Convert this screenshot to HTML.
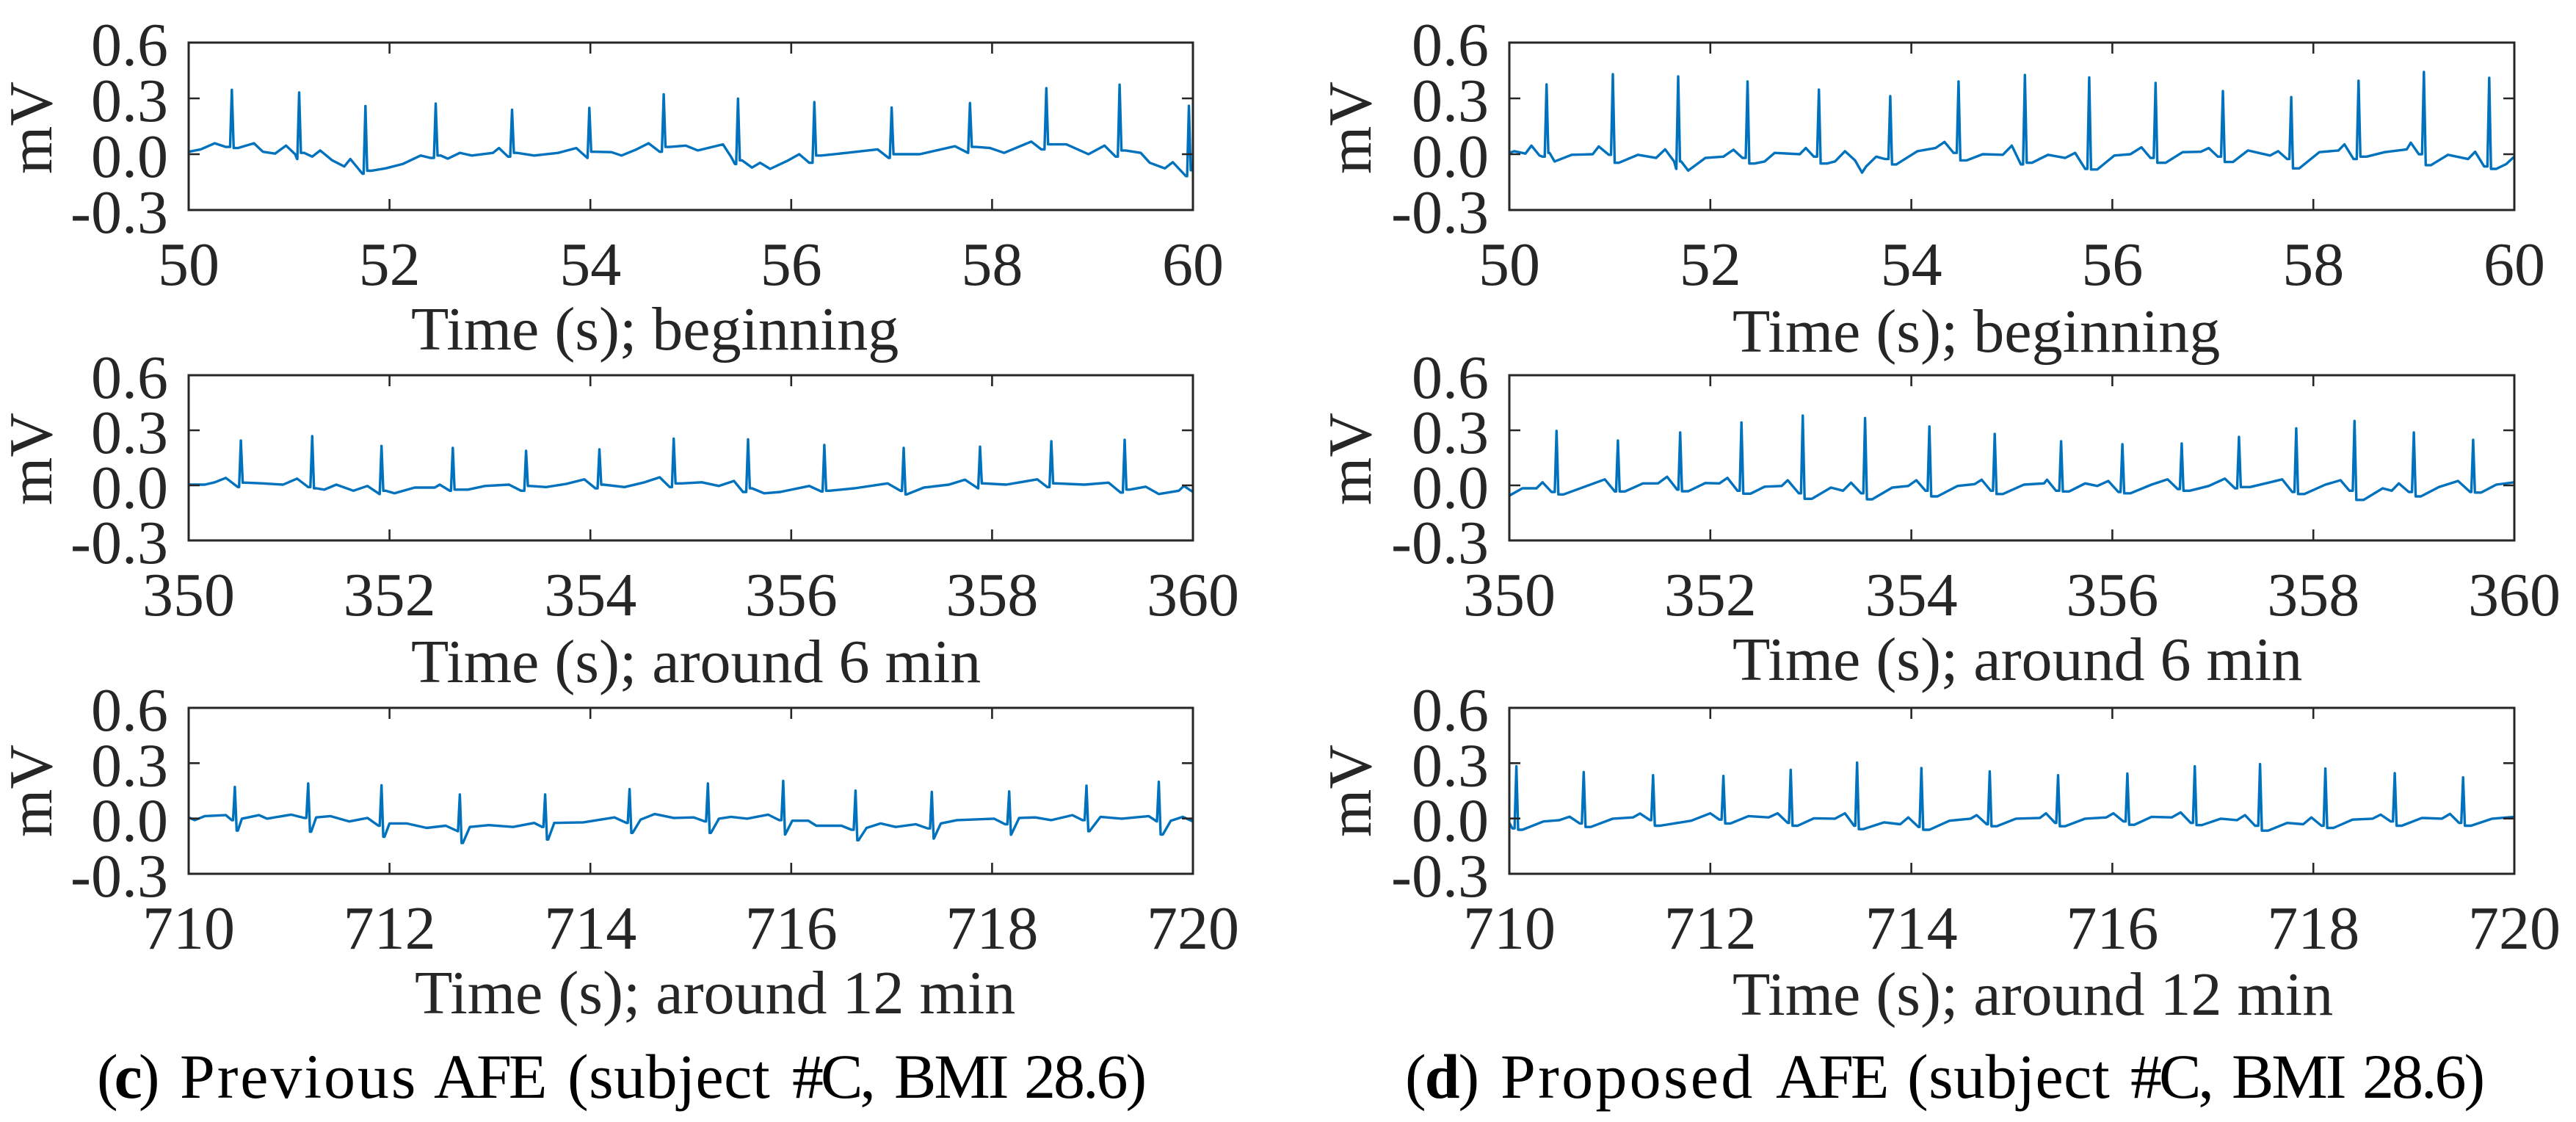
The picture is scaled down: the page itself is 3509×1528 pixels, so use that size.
<!DOCTYPE html>
<html lang="en">
<head>
<meta charset="utf-8">
<title>ECG recordings: previous and proposed AFE</title>
<style>
html,body{margin:0;padding:0;background:#fff;}
svg{display:block;}
text{font-family:"Liberation Serif","Times New Roman",serif;font-size:84px;fill:#262626;}
text.caption{fill:#000;font-size:86px;}
</style>
</head>
<body>
<svg id="chart" xmlns="http://www.w3.org/2000/svg" width="3509" height="1528" viewBox="0 0 3509 1528">
  <rect x="0" y="0" width="3509" height="1528" fill="#fff"/>
  <text x="560" y="476">Time (s); beginning</text>
  <text x="2360" y="479">Time (s); beginning</text>
  <text x="560" y="929">Time (s); around 6 min</text>
  <text x="2360" y="926">Time (s); around 6 min</text>
  <text x="565" y="1380">Time (s); around 12 min</text>
  <text x="2360" y="1382">Time (s); around 12 min</text>
  <text transform="translate(70,174) rotate(-90)" text-anchor="middle">mV</text>
  <text transform="translate(1867,174) rotate(-90)" text-anchor="middle">mV</text>
  <text transform="translate(70,625) rotate(-90)" text-anchor="middle">mV</text>
  <text transform="translate(1867,625) rotate(-90)" text-anchor="middle">mV</text>
  <text transform="translate(70,1077) rotate(-90)" text-anchor="middle">mV</text>
  <text transform="translate(1867,1077) rotate(-90)" text-anchor="middle">mV</text>
  <text class="caption" y="1495"><tspan x="132" letter-spacing="-5">(<tspan font-weight="bold">c</tspan>) </tspan><tspan x="245" letter-spacing="2.9">Previous </tspan><tspan x="591" letter-spacing="-4">AFE </tspan><tspan x="773" letter-spacing="0.5">(subject </tspan><tspan x="1079" letter-spacing="-4">#C, </tspan><tspan x="1218" letter-spacing="-3">BMI </tspan><tspan x="1395" letter-spacing="-3">28.6)</tspan></text>
  <text class="caption" y="1495"><tspan x="1914" letter-spacing="-2">(<tspan font-weight="bold">d</tspan>) </tspan><tspan x="2044" letter-spacing="3.3">Proposed </tspan><tspan x="2419" letter-spacing="-4">AFE </tspan><tspan x="2598" letter-spacing="0.5">(subject </tspan><tspan x="2902" letter-spacing="-4">#C, </tspan><tspan x="3040" letter-spacing="-3">BMI </tspan><tspan x="3218" letter-spacing="-3">28.6)</tspan></text>
</svg>
<script>
const yTickValues = [-0.3, 0, 0.3, 0.6];
const yTickLabels = ['-0.3', '0.0', '0.3', '0.6'];

const xTicksBeginning = [50, 52, 54, 56, 58, 60];
const xTicks6Min = [350, 352, 354, 356, 358, 360];
const xTicks12Min = [710, 712, 714, 716, 718, 720];

const beatsPrevBeginning = [[50.43,.346],[51.10,.332],[51.76,.259],[52.46,.272],[53.22,.239],[53.99,.249],[54.73,.322],[55.47,.299],[56.23,.280],[57.00,.251],[57.78,.275],[58.54,.355],[59.27,.374],[59.96,.260]];
const wavePrevBeginning = [[50.00,.013],[50.12,.026],[50.26,.059],[50.37,.039],[50.49,.033],[50.65,.059],[50.74,.013],[50.86,.003],[50.97,.046],[51.06,0],[51.08,-.026],[51.15,.007],[51.23,-.013],[51.31,.020],[51.43,-.033],[51.55,-.066],[51.61,-.026],[51.68,-.072],[51.73,-.105],[51.82,-.089],[51.96,-.076],[52.13,-.053],[52.31,-.007],[52.41,-.020],[52.51,-.007],[52.58,-.024],[52.70,.007],[52.82,-.007],[53.03,.007],[53.09,.033],[53.18,-.013],[53.27,.007],[53.44,-.007],[53.68,.007],[53.86,.033],[53.97,-.020],[54.05,.013],[54.21,.011],[54.31,-.007],[54.46,.026],[54.58,.059],[54.69,.013],[54.79,.039],[54.95,.046],[55.07,.020],[55.32,.053],[55.40,-.013],[55.44,-.053],[55.51,-.033],[55.61,-.072],[55.69,-.046],[55.79,-.079],[55.97,-.033],[56.08,0],[56.18,-.046],[56.30,-.007],[56.55,.007],[56.86,.026],[56.97,-.020],[57.08,0],[57.28,0],[57.63,.043],[57.76,.007],[57.84,.039],[57.98,.033],[58.12,.007],[58.39,.068],[58.49,.026],[58.59,.053],[58.74,.053],[58.96,0],[59.12,.046],[59.23,-.013],[59.33,.020],[59.48,.007],[59.57,-.046],[59.72,-.076],[59.80,-.043],[59.93,-.118],[60.00,-.086]];

const beatsPropBeginning = [[50.37,.375],[51.03,.430],[51.68,.418],[52.37,.391],[53.08,.347],[53.79,.312],[54.47,.391],[55.13,.426],[55.77,.413],[56.43,.383],[57.10,.339],[57.78,.307],[58.45,.395],[59.10,.442],[59.75,.411]];
const wavePropBeginning = [[50.00,.007],[50.05,.016],[50.16,.003],[50.22,.046],[50.30,-.007],[50.33,-.013],[50.40,.007],[50.45,-.039],[50.62,-.003],[50.83,0],[50.89,.042],[50.99,-.003],[51.09,-.046],[51.28,-.003],[51.46,-.020],[51.55,.026],[51.64,-.039],[51.66,-.079],[51.71,-.039],[51.78,-.088],[51.95,-.020],[52.13,-.013],[52.23,.024],[52.32,-.020],[52.44,-.050],[52.54,-.039],[52.64,.007],[52.89,0],[52.95,.033],[53.03,-.013],[53.16,-.050],[53.24,-.039],[53.34,.016],[53.44,-.033],[53.51,-.099],[53.55,-.066],[53.65,-.013],[53.74,-.026],[53.85,-.055],[54.06,.016],[54.24,.033],[54.33,.066],[54.42,.007],[54.55,-.033],[54.71,0],[54.91,-.003],[55.00,.046],[55.09,-.055],[55.20,-.046],[55.36,-.003],[55.53,-.020],[55.63,.007],[55.73,-.079],[55.85,-.082],[56.02,-.007],[56.18,0],[56.29,.037],[56.38,-.020],[56.53,-.046],[56.70,.011],[56.88,.013],[56.96,.033],[57.05,-.013],[57.20,-.042],[57.35,.020],[57.57,-.007],[57.65,.016],[57.74,-.026],[57.86,-.076],[58.06,.011],[58.25,.020],[58.31,.053],[58.40,-.026],[58.53,-.013],[58.71,.011],[58.93,.026],[58.97,.062],[59.05,0],[59.17,-.059],[59.34,-.003],[59.54,-.026],[59.61,.013],[59.70,-.066],[59.82,-.079],[59.92,-.053],[60.00,-.013]];

const beatsPrev6Min = [[350.52,.244],[351.23,.268],[351.92,.215],[352.63,.204],[353.36,.188],[354.09,.196],[354.83,.255],[355.57,.251],[356.33,.220],[357.12,.204],[357.88,.211],[358.59,.240],[359.32,.248]];
const wavePrev6Min = [[350.00,.004],[350.16,.004],[350.26,.017],[350.37,.041],[350.49,-.009],[350.57,.015],[350.74,.011],[350.94,.004],[351.08,.037],[351.19,-.009],[351.27,-.016],[351.35,-.023],[351.47,.004],[351.64,-.029],[351.78,-.003],[351.90,-.047],[351.96,-.029],[352.05,-.043],[352.25,-.012],[352.45,-.012],[352.50,.004],[352.60,-.029],[352.66,-.023],[352.78,-.023],[352.95,-.003],[353.19,.004],[353.31,-.029],[353.40,-.003],[353.56,-.009],[353.76,.008],[353.94,.033],[354.05,-.016],[354.13,.004],[354.34,-.009],[354.54,.017],[354.69,.044],[354.79,-.009],[354.91,.011],[355.11,.017],[355.28,-.003],[355.43,.024],[355.52,-.036],[355.61,-.016],[355.73,-.043],[355.89,-.036],[356.18,-.003],[356.30,-.033],[356.38,-.029],[356.63,-.016],[356.96,.011],[357.09,-.030],[357.15,-.049],[357.32,-.012],[357.57,.004],[357.73,.031],[357.86,-.016],[357.92,.011],[358.14,.004],[358.45,.033],[358.55,-.009],[358.64,.011],[358.92,.004],[359.16,.015],[359.28,-.039],[359.37,-.023],[359.53,-.007],[359.66,-.047],[359.86,-.029],[359.91,-.003],[360.00,-.036]];

const beatsProp6Min = [[350.47,.297],[351.08,.244],[351.70,.288],[352.31,.343],[352.92,.380],[353.54,.367],[354.18,.321],[354.83,.280],[355.49,.240],[356.10,.224],[356.69,.228],[357.26,.264],[357.83,.311],[358.41,.351],[359.00,.288],[359.59,.248]];
const waveProp6Min = [[350.00,-.056],[350.13,-.016],[350.27,-.016],[350.33,.017],[350.42,-.036],[350.54,-.049],[350.74,-.009],[350.95,.033],[351.05,-.033],[351.15,-.033],[351.33,.011],[351.48,.011],[351.57,.047],[351.67,-.023],[351.78,-.032],[351.95,.013],[352.09,.011],[352.17,.041],[352.27,-.029],[352.40,-.045],[352.54,-.007],[352.71,-.003],[352.77,.028],[352.88,-.043],[353.01,-.073],[353.20,-.012],[353.32,-.029],[353.40,.015],[353.50,-.043],[353.61,-.076],[353.81,-.012],[353.97,-.003],[354.05,.028],[354.14,-.029],[354.26,-.060],[354.46,-.003],[354.63,.007],[354.70,.031],[354.79,-.029],[354.91,-.047],[355.12,.004],[355.32,.011],[355.35,.031],[355.44,-.029],[355.57,-.033],[355.73,.011],[355.85,-.003],[355.96,.024],[356.06,-.036],[356.18,-.043],[356.39,.004],[356.55,.033],[356.65,-.020],[356.77,-.029],[356.96,-.003],[357.12,.037],[357.22,-.016],[357.37,-.009],[357.57,.017],[357.69,.033],[357.79,-.036],[357.91,-.047],[358.12,.004],[358.27,.028],[358.36,-.029],[358.50,-.079],[358.69,-.016],[358.78,-.029],[358.85,.011],[358.95,-.036],[359.07,-.060],[359.25,-.009],[359.44,.024],[359.56,-.036],[359.67,-.039],[359.82,.004],[360.00,.017]];

const beatsPrev12Min = [[710.46,.171],[711.19,.190],[711.92,.180],[712.70,.130],[713.55,.130],[714.39,.159],[715.17,.190],[715.92,.204],[716.64,.151],[717.40,.144],[718.17,.147],[718.94,.178],[719.66,.199]];
const dipsPrev12Min = [[710.49,-.066],[711.22,-.072],[711.95,-.099],[712.73,-.133],[713.58,-.114],[714.42,-.078],[715.20,-.078],[715.94,-.087],[716.67,-.118],[717.42,-.109],[718.19,-.088],[718.97,-.069],[719.70,-.087]];
const wavePrev12Min = [[710.00,.006],[710.06,-.009],[710.16,.013],[710.37,.018],[710.43,-.009],[710.53,-.001],[710.70,.018],[710.78,-.001],[711.02,.021],[711.15,.003],[711.27,.006],[711.41,.013],[711.60,-.016],[711.78,.003],[711.89,-.039],[712.00,-.027],[712.17,-.027],[712.37,-.051],[712.56,-.039],[712.68,-.069],[712.80,-.046],[712.99,-.036],[713.23,-.046],[713.44,-.024],[713.52,-.046],[713.64,-.024],[713.93,-.021],[714.24,.006],[714.36,-.024],[714.50,-.006],[714.64,.024],[714.83,.003],[715.03,.006],[715.14,-.016],[715.28,-.001],[715.40,.009],[715.56,-.001],[715.77,.021],[715.88,-.009],[716.01,-.012],[716.17,-.012],[716.25,-.039],[716.50,-.039],[716.60,-.061],[716.75,-.051],[716.89,-.027],[717.04,-.046],[717.24,-.031],[717.36,-.054],[717.49,-.027],[717.65,-.009],[718.02,-.001],[718.13,-.031],[718.27,.003],[718.43,.006],[718.59,-.009],[718.80,.018],[718.90,-.009],[719.08,.009],[719.29,-.001],[719.56,.013],[719.64,-.016],[719.78,-.012],[719.90,.009],[720.00,-.016]];

const beatsProp12Min = [[710.07,.283],[710.74,.252],[711.43,.235],[712.13,.231],[712.80,.264],[713.46,.303],[714.10,.274],[714.78,.255],[715.46,.235],[716.15,.244],[716.82,.283],[717.47,.295],[718.12,.271],[718.81,.246],[719.49,.223]];
const waveProp12Min = [[710.00,-.024],[710.03,-.054],[710.13,-.061],[710.34,-.016],[710.50,-.009],[710.60,.010],[710.70,-.027],[710.81,-.046],[711.03,-.001],[711.23,.006],[711.30,.027],[711.40,-.009],[711.50,-.039],[711.81,-.012],[712.00,.028],[712.09,-.006],[712.20,-.027],[712.38,.013],[712.58,.006],[712.67,.028],[712.77,-.024],[712.87,-.039],[713.03,.001],[713.24,-.001],[713.34,.028],[713.43,-.039],[713.52,-.058],[713.73,-.021],[713.89,-.031],[713.97,.006],[714.07,-.046],[714.18,-.061],[714.38,-.012],[714.59,-.001],[714.65,.018],[714.75,-.031],[714.85,-.042],[715.04,-.001],[715.28,.003],[715.34,.028],[715.43,-.024],[715.53,-.042],[715.73,-.001],[715.94,.006],[716.01,.028],[716.11,-.016],[716.22,-.034],[716.39,.009],[716.59,.006],[716.68,.033],[716.78,-.024],[716.89,-.036],[717.08,-.001],[717.24,-.009],[717.32,.018],[717.42,-.039],[717.55,-.066],[717.74,-.024],[717.90,-.031],[717.98,.006],[718.08,-.039],[718.20,-.051],[718.39,-.006],[718.59,-.001],[718.67,.021],[718.77,-.016],[718.88,-.039],[719.08,.003],[719.28,-.001],[719.36,.025],[719.45,-.024],[719.57,-.039],[719.78,-.001],[720.00,.009]];

const svgNS = 'http://www.w3.org/2000/svg';
const chart = document.getElementById('chart');
const AXIS_COLOR = '#262626';
const TRACE_COLOR = '#0072BD';
const SPIKE_HALF_WIDTH_S = 0.018;

function make(tag, attrs, parent) {
  const el = document.createElementNS(svgNS, tag);
  for (const k in attrs) el.setAttribute(k, attrs[k]);
  parent.appendChild(el);
  return el;
}

function withSpikes(wave, beats) {
  const sorted = wave.slice().sort((a, b) => a[0] - b[0]);
  const out = sorted.slice();
  beats.forEach(beat => {
    const t = beat[0];
    const before = sorted.filter(p => p[0] < t).pop();
    const after = sorted.find(p => p[0] > t);
    if (before) out.push([Math.max(t - SPIKE_HALF_WIDTH_S, before[0]), before[1]]);
    out.push(beat);
    if (after) out.push([Math.min(t + SPIKE_HALF_WIDTH_S, after[0]), after[1]]);
  });
  return out.sort((a, b) => a[0] - b[0]);
}

function drawPanel(panelName, box, xTicks, wave, beats) {
  const xMin = xTicks[0];
  const xMax = xTicks[xTicks.length - 1];
  const yMin = yTickValues[0];
  const yMax = yTickValues[yTickValues.length - 1];
  const xScale = t => box.left + (t - xMin) / (xMax - xMin) * (box.right - box.left);
  const yScale = v => box.bottom - (v - yMin) / (yMax - yMin) * (box.bottom - box.top);

  const group = make('g', {}, chart);
  
  

  const points = withSpikes(wave, beats);
  const trace = make('polyline', {
    points: points.map(p => xScale(p[0]).toFixed(1) + ',' + yScale(p[1]).toFixed(1)).join(' '),
    fill: 'none', stroke: TRACE_COLOR, 'stroke-width': 3.4, 'stroke-linejoin': 'round'
  }, group);
  
  

  const frame = make('rect', {
    x: box.left, y: box.top, width: box.right - box.left, height: box.bottom - box.top,
    fill: 'none', stroke: AXIS_COLOR, 'stroke-width': 3
  }, group);
  
  

  xTicks.forEach(tick => {
    const x = xScale(tick);
    const marks = make('path', {
      d: 'M' + x + ' ' + box.top + 'v15M' + x + ' ' + box.bottom + 'v-15',
      stroke: AXIS_COLOR, 'stroke-width': 2.6, fill: 'none'
    }, group);
    
    
    const label = make('text', { x: x, y: box.labelY, 'text-anchor': 'middle' }, group);
    label.textContent = String(tick);
    
    
  });

  yTickValues.forEach((tick, i) => {
    const y = yScale(tick);
    const marks = make('path', {
      d: 'M' + box.left + ' ' + y + 'h15M' + box.right + ' ' + y + 'h-15',
      stroke: AXIS_COLOR, 'stroke-width': 2.6, fill: 'none'
    }, group);
    
    
    const label = make('text', { x: box.left - 28, y: y + 31, 'text-anchor': 'end' }, group);
    label.textContent = yTickLabels[i];
    
    
  });
}

const LEFT_COL = { left: 257, right: 1625 };
const RIGHT_COL = { left: 2056, right: 3425 };
const ROW_1 = { top: 58, bottom: 286, labelY: 388 };
const ROW_2 = { top: 511, bottom: 736, labelY: 838 };
const ROW_3 = { top: 964, bottom: 1190, labelY: 1292 };

drawPanel('previous-beginning', Object.assign({}, LEFT_COL, ROW_1), xTicksBeginning, wavePrevBeginning, beatsPrevBeginning);
drawPanel('proposed-beginning', Object.assign({}, RIGHT_COL, ROW_1), xTicksBeginning, wavePropBeginning, beatsPropBeginning);
drawPanel('previous-6-min', Object.assign({}, LEFT_COL, ROW_2), xTicks6Min, wavePrev6Min, beatsPrev6Min);
drawPanel('proposed-6-min', Object.assign({}, RIGHT_COL, ROW_2), xTicks6Min, waveProp6Min, beatsProp6Min);
drawPanel('previous-12-min', Object.assign({}, LEFT_COL, ROW_3), xTicks12Min, wavePrev12Min.concat(dipsPrev12Min), beatsPrev12Min);
drawPanel('proposed-12-min', Object.assign({}, RIGHT_COL, ROW_3), xTicks12Min, waveProp12Min, beatsProp12Min);
</script>
</body>
</html>
